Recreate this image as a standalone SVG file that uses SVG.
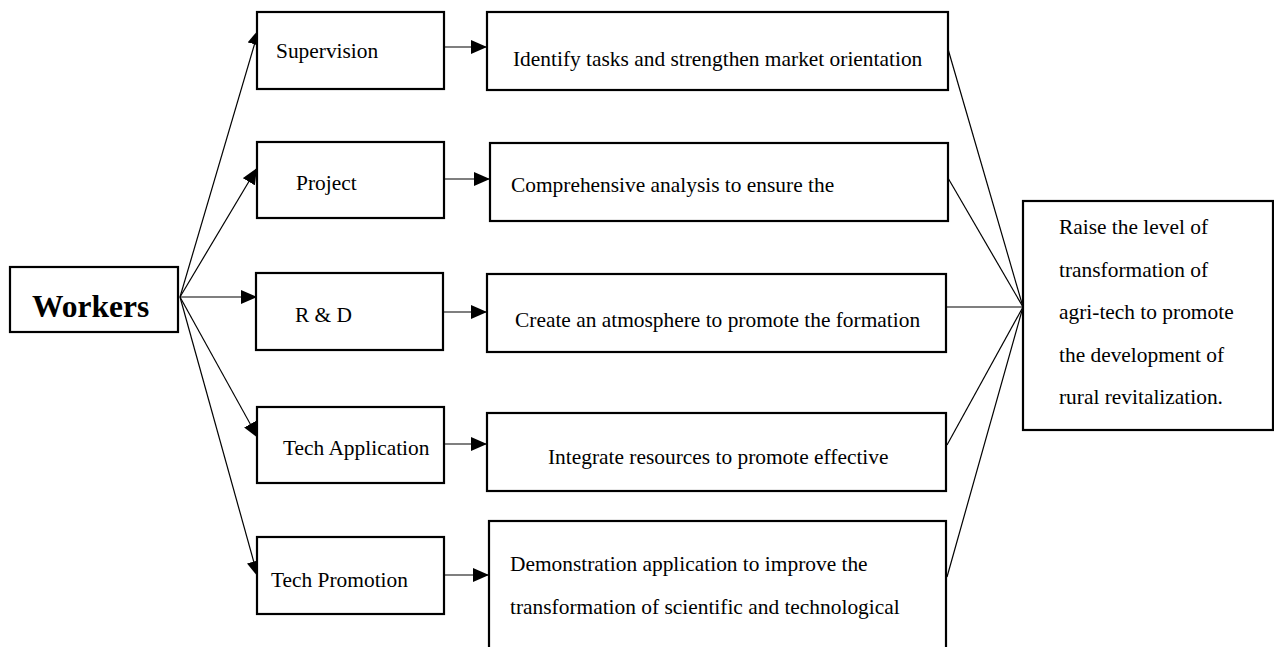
<svg xmlns="http://www.w3.org/2000/svg" width="1274" height="647" viewBox="0 0 1274 647">
  <style>
    .box { fill: #ffffff; stroke: #000000; stroke-width: 2.2; }
    .lbl { font-family: "Liberation Serif", "Times New Roman", serif; font-size: 21.4px; fill: #000000; }
    .title { font-family: "Liberation Serif", "Times New Roman", serif; font-size: 31.5px; font-weight: bold; fill: #000000; }
    .link { stroke: #000000; stroke-width: 1.2; fill: none; }
    .arrow { stroke: #000000; stroke-width: 1.2; fill: none; marker-end: url(#head); }
  </style>
  <defs>
    <marker id="head" viewBox="0 0 16 14" refX="16" refY="7" markerWidth="16" markerHeight="14" markerUnits="userSpaceOnUse" orient="auto">
      <path d="M0,0 L16,7 L0,14 Z" fill="#000000"/>
    </marker>
  </defs>
  <rect width="1274" height="647" fill="#ffffff"/>

  <!-- connectors -->
  <g id="connectors">
    <!-- fan from Workers -->
    <line class="arrow" x1="180" y1="297" x2="259" y2="29"/>
    <line class="arrow" x1="180" y1="297" x2="257" y2="168"/>
    <line class="arrow" x1="180" y1="297" x2="257" y2="297"/>
    <line class="arrow" x1="180" y1="297" x2="258" y2="438"/>
    <line class="arrow" x1="180" y1="297" x2="258" y2="577"/>
    <!-- category to action -->
    <line class="arrow" x1="444" y1="47" x2="487" y2="47"/>
    <line class="arrow" x1="444" y1="179" x2="490" y2="179"/>
    <line class="arrow" x1="443" y1="312" x2="487" y2="312"/>
    <line class="arrow" x1="444" y1="444" x2="487" y2="444"/>
    <line class="arrow" x1="444" y1="575" x2="489" y2="575"/>
    <!-- actions converge on the goal -->
    <line class="link" x1="948" y1="49" x2="1023" y2="307"/>
    <line class="link" x1="948" y1="178" x2="1023" y2="307"/>
    <line class="link" x1="947" y1="307" x2="1023" y2="307"/>
    <line class="link" x1="947" y1="445" x2="1023" y2="307"/>
    <line class="link" x1="947" y1="577" x2="1023" y2="307"/>
  </g>

  <g id="workers">
    <rect class="box" x="10" y="267" width="168" height="65"/>
    <text class="title" x="32" y="317">Workers</text>
  </g>

  <g id="supervision">
    <rect class="box" x="257" y="12" width="187" height="77"/>
    <text class="lbl" x="276" y="58">Supervision</text>
  </g>
  <g id="project">
    <rect class="box" x="257" y="142" width="187" height="76"/>
    <text class="lbl" x="296" y="190">Project</text>
  </g>
  <g id="rnd">
    <rect class="box" x="256" y="273" width="187" height="77"/>
    <text class="lbl" x="295" y="322">R &amp; D</text>
  </g>
  <g id="tech-application">
    <rect class="box" x="257" y="407" width="187" height="76"/>
    <text class="lbl" x="283" y="455">Tech Application</text>
  </g>
  <g id="tech-promotion">
    <rect class="box" x="257" y="537" width="187" height="77"/>
    <text class="lbl" x="271" y="587">Tech Promotion</text>
  </g>

  <g id="action-market">
    <rect class="box" x="487" y="12" width="461" height="78"/>
    <text class="lbl" x="513" y="66">Identify tasks and strengthen market orientation</text>
  </g>
  <g id="action-analysis">
    <rect class="box" x="490" y="143" width="458" height="78"/>
    <text class="lbl" x="511" y="192">Comprehensive analysis to ensure the</text>
  </g>
  <g id="action-atmosphere">
    <rect class="box" x="487" y="274" width="459" height="78"/>
    <text class="lbl" x="515" y="327">Create an atmosphere to promote the formation</text>
  </g>
  <g id="action-resources">
    <rect class="box" x="487" y="413" width="459" height="78"/>
    <text class="lbl" x="548" y="464">Integrate resources to promote effective</text>
  </g>
  <g id="action-demonstration">
    <rect class="box" x="489" y="521" width="457" height="140"/>
    <text class="lbl" x="510" y="571">Demonstration application to improve the</text>
    <text class="lbl" x="510" y="614">transformation of scientific and technological</text>
  </g>

  <g id="goal">
    <rect class="box" x="1023" y="201" width="250" height="229"/>
    <text class="lbl" x="1059" y="234">Raise the level of</text>
    <text class="lbl" x="1059" y="276.5">transformation of</text>
    <text class="lbl" x="1059" y="319">agri-tech to promote</text>
    <text class="lbl" x="1059" y="361.5">the development of</text>
    <text class="lbl" x="1059" y="404">rural revitalization.</text>
  </g>
</svg>
